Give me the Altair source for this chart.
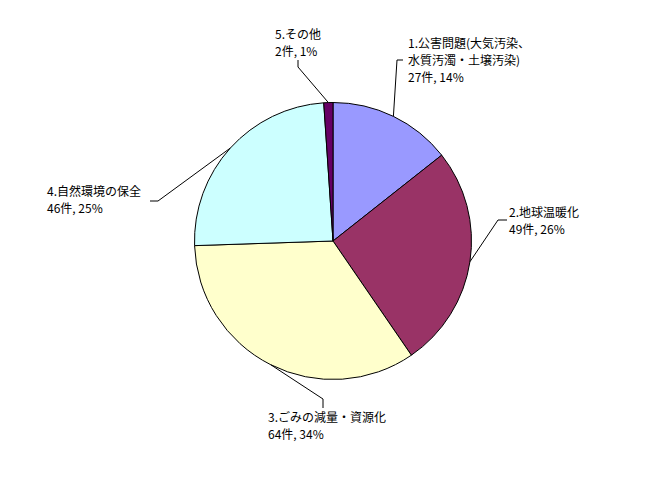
import math
import altair as alt
import pandas as pd

# ---- data ----
ids = [1, 2, 3, 4, 5]
names = ["1.公害問題(大気汚染、水質汚濁・土壌汚染)", "2.地球温暖化", "3.ごみの減量・資源化",
         "4.自然環境の保全", "5.その他"]
label_lines = [["1.公害問題(大気汚染、", "水質汚濁・土壌汚染)"], ["2.地球温暖化"],
               ["3.ごみの減量・資源化"], ["4.自然環境の保全"], ["5.その他"]]
counts = [27, 49, 64, 46, 2]
percents = [14, 26, 34, 25, 1]
colors = ["#9999FF", "#993366", "#FFFFCC", "#CCFFFF", "#660066"]

# ---- layout (pixel offsets from pie centre, y downward) ----
W, H = 653, 471
CX, CY = 325, 233
R = 138.5
elbow = [(64, -181), (165, -21), (-10, 158), (-175, -40), (-35, -174)]
end = [(70, -181), (174, -21), (-10, 167), (-183, -40), (-35, -181)]
text_x = [75, 176, -65, -286, -58]
text_y0 = [-197, -28, 177, -49, -206]
LINE_H = 17

total = sum(counts)
pie_df = pd.DataFrame({"id": ids, "name": names, "count": counts})

line_rows = []
text_rows = []
cum = 0
for i, c in enumerate(counts):
    mid = (cum + c / 2) / total * 2 * math.pi
    cum += c
    ex, ey = R * math.sin(mid), -R * math.cos(mid)
    for s, (px, py) in enumerate([(ex, ey), elbow[i], end[i]]):
        line_rows.append({"id": ids[i], "seq": s, "x": px, "y": py})
    lines = label_lines[i] + [f"{c}件, {percents[i]}%"]
    for j, t in enumerate(lines):
        text_rows.append({"x": text_x[i], "y": text_y0[i] + j * LINE_H, "t": t})

line_df = pd.DataFrame(line_rows)
text_df = pd.DataFrame(text_rows)

xs = alt.Scale(domain=[-CX, W - CX])
ys = alt.Scale(domain=[-CY, H - CY], reverse=True)

pie = alt.Chart(pie_df).mark_arc(outerRadius=R, stroke="black", strokeWidth=1).encode(
    theta=alt.Theta("count:Q", stack=True),
    order=alt.Order("id:O"),
    color=alt.Color("name:N", scale=alt.Scale(domain=names, range=colors), legend=None),
    x=alt.datum(0, scale=xs, axis=None),
    y=alt.datum(0, scale=ys, axis=None),
)

leaders = alt.Chart(line_df).mark_line(color="black", strokeWidth=1).encode(
    x=alt.X("x:Q", scale=xs, axis=None),
    y=alt.Y("y:Q", scale=ys, axis=None),
    detail="id:N",
    order="seq:O",
)

labels = alt.Chart(text_df).mark_text(
    align="left", baseline="middle", font="Noto Sans CJK JP", fontSize=12, color="black"
).encode(
    x=alt.X("x:Q", scale=xs, axis=None),
    y=alt.Y("y:Q", scale=ys, axis=None),
    text="t:N",
)

chart = alt.layer(pie, leaders, labels).properties(
    width=W, height=H, autosize=alt.AutoSizeParams(type="none"), padding=0
).configure_view(stroke=None)

chart.save("out.html", embed_options={"renderer": "svg", "actions": False})
